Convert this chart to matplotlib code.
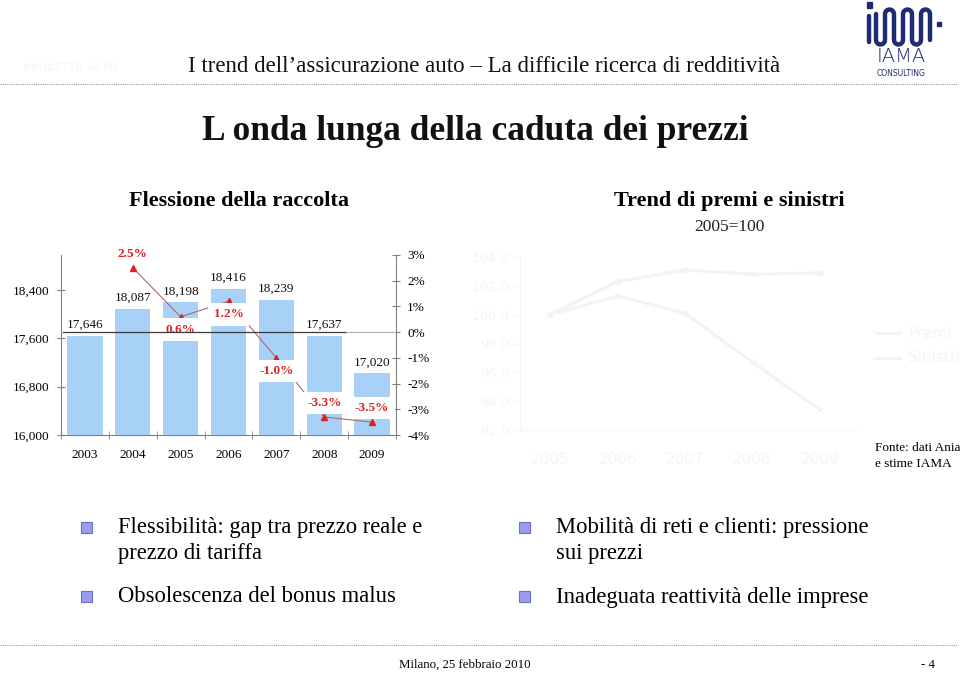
import numpy as np
import matplotlib
matplotlib.use("Agg")
import matplotlib.pyplot as plt
from matplotlib.patches import Rectangle

plt.rcParams['font.family'] = ['Liberation Serif', 'DejaVu Serif']

# ---------------- data ----------------
years = ['2003', '2004', '2005', '2006', '2007', '2008', '2009']
raccolta = [17646, 18087, 18198, 18416, 18239, 17637, 17020]
growth_years = ['2004', '2005', '2006', '2007', '2008', '2009']
growth = [2.5, 0.6, 1.2, -1.0, -3.3, -3.5]
growth_pos = ['above', 'below', 'below', 'below', 'above', 'above']
left_ticks = [16000, 16800, 17600, 18400]
right_ticks = [-4, -3, -2, -1, 0, 1, 2, 3]

trend_years = ['2005', '2006', '2007', '2008', '2009']
premi = [100.0, 101.3, 100.1, 96.7, 93.4]
sinistri = [100.0, 102.3, 103.1, 102.8, 102.9]
trend_ticks = [92, 94, 96, 98, 100, 102, 104]

W, H = 960, 674
fig = plt.figure(figsize=(W / 100, H / 100), dpi=100)
fig.patch.set_facecolor('white')

def fx(x):
    return x / W

def fy(y):
    return 1 - y / H

# background overlay in pixel coords
bg = fig.add_axes([0, 0, 1, 1], zorder=0)
bg.set_xlim(0, W)
bg.set_ylim(H, 0)
bg.axis('off')

navy = '#1f2b72'
# header
bg.text(484, 67, 'I trend dell\u2019assicurazione auto \u2013 La difficile ricerca di redditività',
        fontsize=16.5, ha='center', va='center', color='#111111')
bg.plot([0, 958], [84, 84], color='#9a9a9a', lw=0.8, ls=(0, (1, 1)))
bg.plot([0, 958], [645, 645], color='#9a9a9a', lw=0.8, ls=(0, (1, 1)))

# faded top-left logo
bg.text(70, 68, 'PROGETTO AUTO', fontsize=7, color='#f8f8f8', ha='center', va='center',
        family='DejaVu Sans', weight='bold')

# IAMA logo
xs = np.linspace(876, 930, 7)
path_x, path_y = [], []
top, bot = 14, 40
r = (xs[1] - xs[0]) / 2
for i in range(len(xs) - 1):
    x0 = xs[i]
    t = np.linspace(np.pi, 2 * np.pi, 10)
    if i % 2 == 0:
        path_x += [x0, x0]
        path_y += [top, bot]
        path_x += list(x0 + r + r * np.cos(t))
        path_y += list(bot - r * np.sin(t))
    else:
        path_x += [x0, x0]
        path_y += [bot, top]
        path_x += list(x0 + r + r * np.cos(t))
        path_y += list(top + r * np.sin(t))
path_x += [xs[-1], xs[-1]]
path_y += [path_y[-1], bot]
bg.plot(path_x, path_y, color=navy, lw=3.2, solid_capstyle='round')
bg.plot([869, 869], [16, 42], color=navy, lw=3.2, solid_capstyle='round')
bg.add_patch(Rectangle((866.5, 2), 5, 6, color=navy))
bg.add_patch(Rectangle((937, 22), 4, 4, color=navy))
bg.text(901, 57, 'IAMA', fontsize=14, ha='center', va='center', color=navy,
        family='DejaVu Sans', weight='ultralight')
bg.text(901, 73, 'CONSULTING', fontsize=5.5, ha='center', va='center', color=navy,
        family='DejaVu Sans')

# title
bg.text(475, 131, 'L onda lunga della caduta dei prezzi', fontsize=25.5, weight='bold',
        ha='center', va='center', color='#111111')
bg.text(239, 201, 'Flessione della raccolta', fontsize=16, weight='bold', ha='center', va='center')
bg.text(729, 201, 'Trend di premi e sinistri', fontsize=16, weight='bold', ha='center', va='center')
bg.text(729, 227, '2005=100', fontsize=12.5, ha='center', va='center', color='#222222')

# fonte
bg.text(875, 448, 'Fonte: dati Ania', fontsize=9.5, ha='left', va='center')
bg.text(875, 464, 'e stime IAMA', fontsize=9.5, ha='left', va='center')

# bullets
bullet_fc = '#9b9bf0'
for (bx, by) in [(86, 527), (86, 596), (524, 527), (524, 596)]:
    bg.add_patch(Rectangle((bx - 5.5, by - 5.5), 11, 11, fc=bullet_fc, ec='#7070c8', lw=0.8))
bfs = 16.3
bg.text(118, 527, 'Flessibilità: gap tra prezzo reale e', fontsize=bfs, va='center')
bg.text(118, 554, 'prezzo di tariffa', fontsize=bfs, va='center')
bg.text(118, 596, 'Obsolescenza del bonus malus', fontsize=bfs, va='center')
bg.text(556, 527, 'Mobilità di reti e clienti: pressione', fontsize=bfs, va='center')
bg.text(556, 554, 'sui prezzi', fontsize=bfs, va='center')
bg.text(556, 598, 'Inadeguata reattività delle imprese', fontsize=bfs, va='center')

# footer
bg.text(465, 665, 'Milano, 25 febbraio 2010', fontsize=9.3, ha='center', va='center')
bg.text(928, 665, '- 4', fontsize=9.3, ha='center', va='center')

# ---------------- left chart ----------------
L, R, T, B = 61, 396, 255, 435
ax = fig.add_axes([fx(L), fy(B), fx(R - L), (B - T) / H], zorder=2)
ax.patch.set_alpha(0)
x = np.arange(len(years))
ax.bar(x, [v - 16000 for v in raccolta], bottom=16000, width=0.74, color='#a8d1f7', zorder=1)
ax.set_xlim(-0.5, len(years) - 0.5)
ax.set_ylim(16000, 18980)
ax.set_yticks(left_ticks)
ax.set_yticklabels([f'{v:,}' for v in left_ticks], fontsize=9.5)
ax.set_xticks(x)
ax.set_xticklabels(years, fontsize=9.5)
ax.set_xticks(np.arange(len(years) + 1) - 0.5, minor=True)
ax.tick_params(axis='x', which='major', length=0, pad=10)
ax.tick_params(axis='x', which='minor', length=6, direction='inout', color='#808080')
ax.tick_params(axis='y', length=6, direction='inout', color='#808080', pad=5)
for s in ['top', 'right']:
    ax.spines[s].set_visible(False)
for s in ['left', 'bottom']:
    ax.spines[s].set_color('#808080')
    ax.spines[s].set_linewidth(0.8)
for xi, v in zip(x, raccolta):
    ax.annotate(f'{v:,}', (xi, v), xytext=(0, 5), textcoords='offset pixels',
                ha='center', va='bottom', fontsize=9.5, color='#111111')

ax2 = ax.twinx()
ax2.set_zorder(3)
ax2.patch.set_alpha(0)
ax2.set_ylim(-4, 3)
ax2.set_yticks(right_ticks)
ax2.set_yticklabels([f'{v}%' for v in right_ticks], fontsize=9.5)
ax2.tick_params(axis='y', length=6, direction='inout', color='#808080', pad=5)
for s in ['top', 'left', 'bottom']:
    ax2.spines[s].set_visible(False)
ax2.spines['right'].set_color('#808080')
ax2.spines['right'].set_linewidth(0.8)
gx = [years.index(y) for y in growth_years]
ax2.plot(gx, growth, color='#a86a6a', lw=0.8, marker='^', ms=4,
         mfc='#e02020', mec='#e02020', zorder=2)
for xi, g, pos in zip(gx, growth, growth_pos):
    off = 14 if pos == 'above' else -13
    ax2.annotate(f'{g:.1f}%', (xi, g), xytext=(0, off), textcoords='offset pixels',
                 ha='center', va='center', fontsize=9.5, weight='bold', color='#e02020',
                 bbox=dict(boxstyle='square,pad=0.4', fc='white', ec='none'), zorder=4)
ax2.plot([-0.45, 5.45], [0, 0], color='#3a3a3a', lw=0.9, zorder=5)
ax2.plot([5.45, 6.5], [0, 0], color='#b0b0b0', lw=0.8, zorder=5)

# ---------------- right chart (faded) ----------------
fade_txt = '#f5f5f5'
fade_ln = '#f6f2f2'
L2, R2, T2, B2 = 520, 857, 257, 430
ax3 = fig.add_axes([fx(L2), fy(B2), fx(R2 - L2), (B2 - T2) / H], zorder=1)
ax3.patch.set_alpha(0)
tx = np.arange(len(trend_years))
ax3.plot(tx, sinistri, color=fade_ln, lw=2.2, marker='s', ms=3, mfc=fade_ln, mec=fade_ln)
ax3.plot(tx, premi, color=fade_ln, lw=2.2, marker='x', ms=5, mec=fade_ln)
ax3.set_xlim(-0.45, len(trend_years) - 0.45)
ax3.set_ylim(92, 104)
ax3.set_yticks(trend_ticks)
ax3.set_yticklabels([f'{v:.1f}' for v in trend_ticks], fontsize=9.5, color=fade_txt,
                    family='DejaVu Sans')
ax3.set_xticks(tx)
ax3.set_xticklabels(trend_years, fontsize=11, color=fade_txt, family='DejaVu Sans')
ax3.tick_params(axis='x', length=0, pad=16)
ax3.tick_params(axis='y', length=4, color=fade_txt)
for s in ['top', 'right']:
    ax3.spines[s].set_visible(False)
for s in ['left', 'bottom']:
    ax3.spines[s].set_color(fade_txt)
bg.plot([876, 900], [333, 333], color=fade_ln, lw=2)
bg.plot([876, 900], [358, 358], color=fade_ln, lw=2)
bg.text(908, 333, 'Premi', fontsize=11, color=fade_txt, va='center', family='DejaVu Sans')
bg.text(908, 358, 'Sinistri', fontsize=11, color=fade_txt, va='center', family='DejaVu Sans')

fig.savefig('out.png', dpi=100, facecolor='white')
